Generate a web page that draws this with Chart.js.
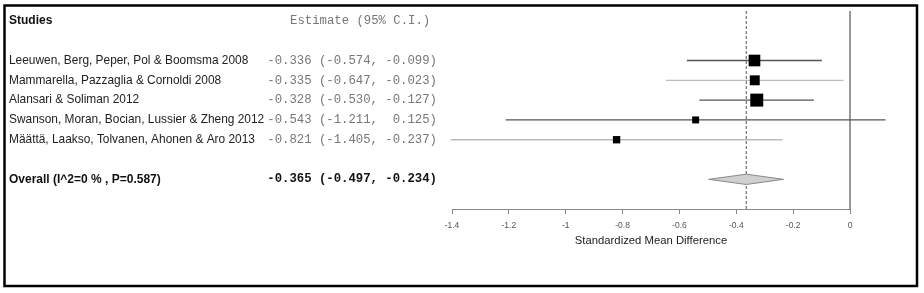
<!DOCTYPE html>
<html>
<head>
<meta charset="utf-8">
<script src="https://cdn.jsdelivr.net/npm/chart.js@4.4.1/dist/chart.umd.min.js"></script>
<style>
  html, body { margin: 0; padding: 0; background: #fff; }
  #wrap { width: 924px; height: 293px; }
</style>
</head>
<body>
<div id="wrap"><canvas id="forestChart" width="924" height="293"></canvas></div>
<script>
// study data
const studyNames = [
    "Leeuwen, Berg, Peper, Pol & Boomsma 2008",
    "Mammarella, Pazzaglia & Cornoldi 2008",
    "Alansari & Soliman 2012",
    "Swanson, Moran, Bocian, Lussier & Zheng 2012",
    "Määttä, Laakso, Tolvanen, Ahonen & Aro 2013"
];
const estimates = [-0.336, -0.335, -0.328, -0.543, -0.821];
const lowerCI = [-0.574, -0.647, -0.530, -1.211, -1.405];
const upperCI = [-0.099, -0.023, -0.127, 0.125, -0.237];

const overallLabel = "Overall (I^2=0 % , P=0.587)";
const overallEst = [-0.365, -0.497, -0.234];

const xTickValues = [-1.4, -1.2, -1, -0.8, -0.6, -0.4, -0.2, 0];
const xTitle = "Standardized Mean Difference";

// row layout: 0 = header, 2..6 = studies, 8 = overall
const firstStudyRow = 2;
const overallRow = 8;

function fmt(v) {
    let s = v.toFixed(3);
    return s.length < 6 ? " " + s : s;
}

// square side grows with inverse-variance weight
function squareSide(i) {
    const se = (upperCI[i] - lowerCI[i]) / 3.92;
    const w = 1 / (se * se);
    return 4.4 + 0.88 * Math.sqrt(w);
}

const darkLine = "#555";
const lightLine = "#bbb";

let datasets = [];

// squares
datasets.push({
    type: "scatter",
    data: estimates.map((e, i) => ({ x: e, y: firstStudyRow + i })),
    pointStyle: "rect",
    pointRadius: estimates.map((e, i) => squareSide(i) / Math.SQRT2),
    backgroundColor: "#000",
    borderColor: "#000",
    borderWidth: 0,
    order: 0,
    clip: false
});

// CI lines
for (let i = 0; i < studyNames.length; i++) {
    datasets.push({
        type: "line",
        data: [{ x: lowerCI[i], y: firstStudyRow + i }, { x: upperCI[i], y: firstStudyRow + i }],
        borderColor: (i === 1 || i === 4) ? lightLine : darkLine,
        borderWidth: 1.3,
        pointRadius: 0,
        order: 2,
        clip: false
    });
}

// overall diamond
datasets.push({
    type: "line",
    data: [
        { x: overallEst[1], y: overallRow },
        { x: overallEst[0], y: overallRow - 0.26 },
        { x: overallEst[2], y: overallRow },
        { x: overallEst[0], y: overallRow + 0.26 },
        { x: overallEst[1], y: overallRow }
    ],
    borderColor: "#888",
    borderWidth: 1,
    backgroundColor: "#d0d0d0",
    fill: "shape",
    pointRadius: 0,
    order: 1,
    clip: false
});

// dashed overall line
datasets.push({
    type: "line",
    data: [{ x: overallEst[0], y: -0.5 }, { x: overallEst[0], y: 9.5 }],
    borderColor: "#555",
    borderWidth: 1,
    borderDash: [3, 2],
    pointRadius: 0,
    order: 3,
    clip: false
});

// zero line
datasets.push({
    type: "line",
    data: [{ x: 0, y: -0.5 }, { x: 0, y: 9.5 }],
    borderColor: "#8a8a8a",
    borderWidth: 1,
    pointRadius: 0,
    order: 4,
    clip: false
});

// text columns + frame
const textPlugin = {
    id: "forestText",
    beforeDraw(chart) {
        const ctx = chart.ctx;
        ctx.save();
        ctx.fillStyle = "#fff";
        ctx.fillRect(0, 0, chart.width, chart.height);
        ctx.strokeStyle = "#000";
        ctx.lineWidth = 2.5;
        ctx.strokeRect(4.5, 5.5, 912.5, 280.5);
        ctx.restore();
    },
    afterDraw(chart) {
        const ctx = chart.ctx;
        const yScale = chart.scales.y;
        ctx.save();
        ctx.textBaseline = "middle";

        let y0 = yScale.getPixelForValue(0);
        ctx.font = "bold 12px 'Liberation Sans', Arial, sans-serif";
        ctx.fillStyle = "#111";
        ctx.textAlign = "left";
        ctx.fillText("Studies", 9, y0);
        ctx.font = "12.3px 'Liberation Mono', 'Courier New', monospace";
        ctx.fillStyle = "#777";
        ctx.fillText("Estimate (95% C.I.)", 290, y0);

        for (let i = 0; i < studyNames.length; i++) {
            const y = yScale.getPixelForValue(firstStudyRow + i);
            ctx.font = "11.9px 'Liberation Sans', Arial, sans-serif";
            ctx.fillStyle = "#222";
            ctx.textAlign = "left";
            ctx.fillText(studyNames[i], 9, y);
            ctx.font = "12.3px 'Liberation Mono', 'Courier New', monospace";
            ctx.fillStyle = "#777";
            ctx.textAlign = "right";
            ctx.fillText(fmt(estimates[i]) + " (" + fmt(lowerCI[i]) + ", " + fmt(upperCI[i]) + ")", 437, y);
        }

        const yo = yScale.getPixelForValue(overallRow);
        ctx.font = "bold 12px 'Liberation Sans', Arial, sans-serif";
        ctx.fillStyle = "#111";
        ctx.textAlign = "left";
        ctx.fillText(overallLabel, 9, yo);
        ctx.font = "bold 12.3px 'Liberation Mono', 'Courier New', monospace";
        ctx.textAlign = "right";
        ctx.fillText(fmt(overallEst[0]) + " (" + fmt(overallEst[1]) + ", " + fmt(overallEst[2]) + ")", 437, yo);
        ctx.restore();
    }
};

const forestChart = new Chart(document.getElementById("forestChart").getContext("2d"), {
    type: "scatter",
    data: { datasets: datasets },
    options: {
        responsive: false,
        animation: false,
        events: [],
        layout: {
            padding: { left: 452, right: 74, top: 11, bottom: 41.2 }
        },
        plugins: {
            legend: { display: false },
            tooltip: { enabled: false }
        },
        scales: {
            x: {
                type: "linear",
                min: -1.4,
                max: 0,
                afterBuildTicks: (axis) => { axis.ticks = xTickValues.map(v => ({ value: v })); },
                ticks: {
                    padding: 6.9,
                    color: "#555",
                    font: { size: 8.5, family: "'Liberation Sans', Arial, sans-serif" },
                    maxRotation: 0,
                    autoSkip: false,
                    callback: (v) => String(Number(v.toFixed(1)))
                },
                grid: {
                    drawOnChartArea: false,
                    drawTicks: true,
                    tickLength: 5,
                    color: "#888"
                },
                border: { display: true, color: "#888", width: 1 },
                title: {
                    display: true,
                    text: xTitle,
                    color: "#222",
                    padding: { top: -3.8, bottom: 4 },
                    font: { size: 11.3, family: "'Liberation Sans', Arial, sans-serif" }
                }
            },
            y: {
                type: "linear",
                display: false,
                reverse: true,
                min: -0.5,
                max: 9.5
            }
        }
    },
    plugins: [textPlugin]
});
</script>
</body>
</html>
